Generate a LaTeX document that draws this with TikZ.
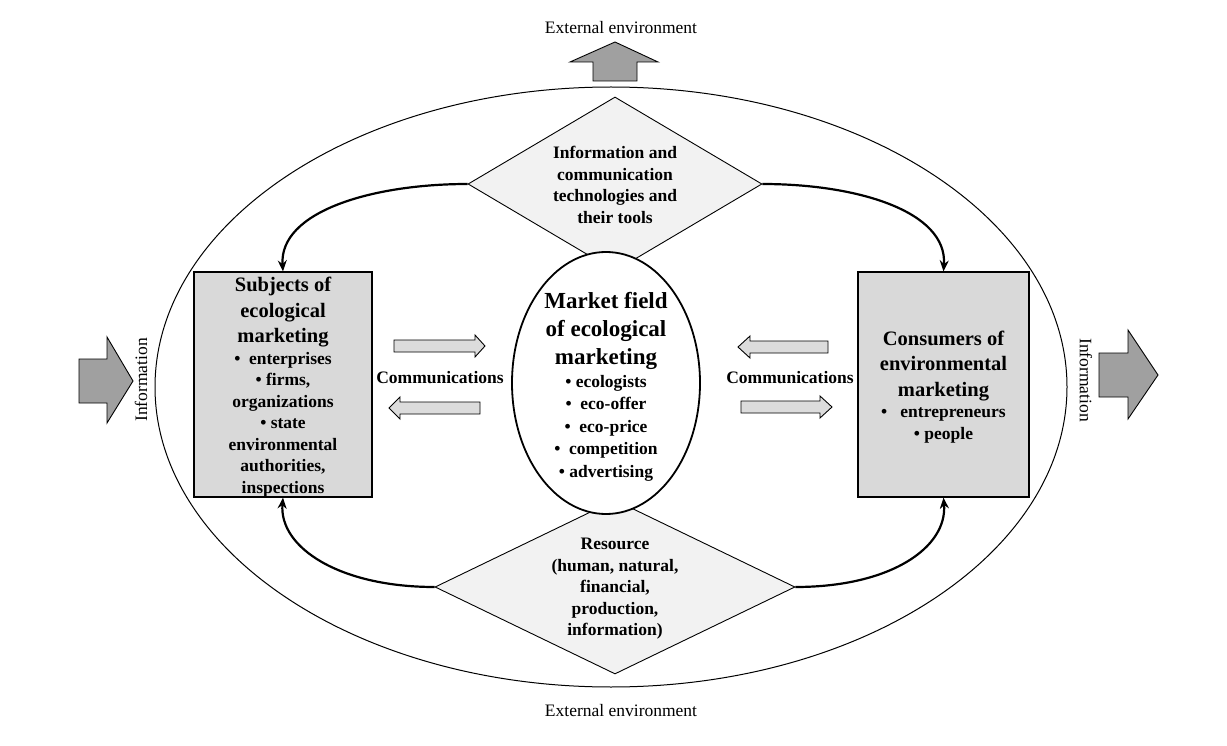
\documentclass[tikz,border=0pt]{standalone}
\usepackage{fontspec}
\setmainfont{Liberation Serif}
\usetikzlibrary{shapes.geometric,arrows.meta}
\definecolor{boxgray}{RGB}{217,217,217}
\definecolor{diagray}{RGB}{242,242,242}
\definecolor{bigarrow}{RGB}{160,160,160}
\definecolor{commgray}{RGB}{220,220,220}
\newcommand\hdA[1]{{\fontsize{20.5}{24}\selectfont #1}}
\newcommand\hdB[1]{{\fontsize{23}{28}\selectfont #1}}
\begin{document}
\begin{tikzpicture}[x=1pt,y=-1pt,
  plain/.style={font=\fontsize{17.5}{21.5}\selectfont, align=center, inner sep=0},
  bold/.style={font=\fontsize{17.5}{21.5}\selectfont\bfseries, align=center, inner sep=0},
  boldc/.style={font=\fontsize{17.5}{22.5}\selectfont\bfseries, align=center, inner sep=0},
  boxstyle/.style={draw, line width=1.3pt, fill=boxgray, rectangle, inner sep=0},
  diastyle/.style={draw, line width=0.9pt, fill=diagray, diamond, inner sep=0, aspect=1},
  blockarrow/.style={draw, line width=0.9pt, fill=bigarrow, line join=miter},
  commarrow/.style={draw, line width=0.9pt, fill=commgray, line join=miter},
  curvearrow/.style={line width=2.2pt, -{Stealth[length=11pt,width=9pt]}}
]
\useasboundingbox (0,0) rectangle (1227,746);
\fill[white] (0,0) rectangle (1227,746);

% outer ellipse
\node[draw, ellipse, line width=1pt, minimum width=912pt, minimum height=600pt, inner sep=0] (outer) at (611,387) {};

% diamonds
\node[diastyle, minimum width=294pt, minimum height=174pt] (tdia) at (615,184) {};
\node[diastyle, minimum width=360pt, minimum height=174pt] (bdia) at (615,587) {};

% center ellipse
\node[draw, ellipse, line width=1.8pt, fill=white, minimum width=188pt, minimum height=262pt, inner sep=0] (mid) at (606,383) {};

% boxes
\node[boxstyle, minimum width=178pt, minimum height=225pt] (lbox) at (283,384.5) {};
\node[boxstyle, minimum width=171pt, minimum height=225pt] (rbox) at (943.5,384.5) {};

% texts
\node[bold] (ltxt) at (283,387) {\hdA{Subjects of}\\[4pt]\hdA{ecological}\\[4pt]\hdA{marketing}\\•\ \ enterprises\\•\ firms,\\organizations\\• state\\environmental\\authorities,\\inspections};
\node[bold] (rtxt) at (943.5,387) {\hdA{Consumers of}\\[4pt]\hdA{environmental}\\[4pt]\hdA{marketing}\\•\ \ \ entrepreneurs\\•\ people};
\node[boldc] (mtxt) at (606,387) {\hdB{Market field}\\[5.5pt]\hdB{of ecological}\\[5.5pt]\hdB{marketing}\\• ecologists\\•\ \ eco-offer\\•\ \ eco-price\\•\ \ competition\\• advertising};
\node[bold] (ttxt) at (615,185) {Information and\\communication\\technologies and\\their tools};
\node[bold] (btxt) at (615,589) {Resource\\(human, natural,\\financial,\\production,\\information)};

\node[bold] (lcomm) at (440,378) {Communications};
\node[bold] (rcomm) at (790,378) {Communications};

\node[plain] (topenv) at (621,28) {External environment};
\node[plain] (botenv) at (621,711) {External environment};
\node[plain, rotate=90] (linfo) at (141,380) {Information};
\node[plain, rotate=-90] (rinfo) at (1086,380) {Information};

% big block arrows
\draw[blockarrow] (593,81) -- (593,62) -- (570,62) -- (615,42) -- (658,62) -- (637,62) -- (637,81) -- cycle;
\draw[blockarrow] (79,359) -- (107,359) -- (107,337) -- (133,381) -- (107,423) -- (107,403) -- (79,403) -- cycle;
\draw[blockarrow] (1099,353) -- (1128,353) -- (1128,330) -- (1158,375) -- (1128,419) -- (1128,397) -- (1099,397) -- cycle;

% communication arrows
\draw[commarrow] (394,340) -- (475,340) -- (475,335) -- (485,346) -- (475,357) -- (475,352) -- (394,352) -- cycle;
\draw[commarrow] (480,402) -- (400,402) -- (400,397) -- (389,408) -- (400,419) -- (400,414) -- (480,414) -- cycle;
\draw[commarrow] (828,341) -- (750,341) -- (750,336) -- (738,347) -- (750,358) -- (750,353) -- (828,353) -- cycle;
\draw[commarrow] (741,401) -- (820,401) -- (820,396) -- (832,407) -- (820,418) -- (820,413) -- (741,413) -- cycle;

% curved connectors
\draw[curvearrow] (tdia.west) .. controls +(-95,0) and +(-4,-60) .. (lbox.north);
\draw[curvearrow] (tdia.east) .. controls +(95,0) and +(4,-60) .. (rbox.north);
\draw[curvearrow] (bdia.west) .. controls +(-95,0) and +(-4,50) .. (lbox.south);
\draw[curvearrow] (bdia.east) .. controls +(95,0) and +(4,50) .. (rbox.south);
\end{tikzpicture}
\end{document}
